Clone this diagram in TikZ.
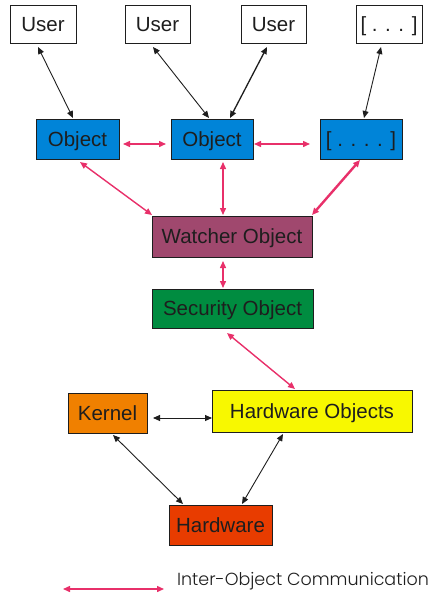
\documentclass[tikz,border=0pt]{standalone}
\usepackage{fontspec}
\setmainfont{Liberation Sans}
\newfontfamily\legendfont{Poppins Light}
\usetikzlibrary{arrows.meta,calc}
\definecolor{objblue}{HTML}{0084D8}
\definecolor{watcher}{HTML}{A0486E}
\definecolor{secgreen}{HTML}{008C40}
\definecolor{kernelor}{HTML}{F08000}
\definecolor{hwyellow}{HTML}{F8F800}
\definecolor{hwred}{HTML}{E83C00}
\definecolor{pinkarr}{HTML}{E8306A}
\definecolor{txt}{HTML}{1E1E1E}
\tikzset{
  box/.style={draw=txt, line width=0.9pt, inner sep=0pt, text=txt,
    text height=14.7pt, text depth=0pt,
    font=\fontsize{20.5}{24}\selectfont},
  blk/.style={draw=txt, line width=0.9pt, {Triangle[length=7pt,width=6pt]}-{Triangle[length=7pt,width=6pt]}},
  pnk/.style={draw=pinkarr, fill=pinkarr, line width=1.4pt, {Triangle[length=7pt,width=6pt]}-{Triangle[length=7pt,width=6pt]}}
}
\begin{document}
\begin{tikzpicture}[x=1pt,y=-1pt]
\useasboundingbox (0,0) rectangle (434,600);
% users
\node[box, minimum width=66pt, minimum height=38pt] (u1) at (43,24) {User};
\node[box, minimum width=65pt, minimum height=38pt] (u2) at (157.5,24) {User};
\node[box, minimum width=65pt, minimum height=38pt] (u3) at (273.5,24) {User};
\node[box, minimum width=66pt, minimum height=38pt] (u4) at (389,24) {[ . . . ]};
% objects
\node[box, fill=objblue, minimum width=83pt, minimum height=40pt] (o1) at (77.5,139) {Object};
\node[box, fill=objblue, minimum width=82pt, minimum height=40pt] (o2) at (212,139) {Object};
\node[box, fill=objblue, minimum width=82pt, minimum height=40pt] (o3) at (361,139) {[ . . . . ]};
% watcher, security
\node[box, fill=watcher, minimum width=160pt, minimum height=41pt] (w) at (232,236.5) {Watcher Object};
\node[box, fill=secgreen, minimum width=161pt, minimum height=39pt] (s) at (232.5,308.5) {Security Object};
% hardware
\node[box, fill=hwyellow, minimum width=200pt, minimum height=42pt] (ho) at (312,411) {Hardware Objects};
\node[box, fill=kernelor, minimum width=79pt, minimum height=40pt] (k) at (107.5,413) {Kernel};
\node[box, fill=hwred, minimum width=103pt, minimum height=40pt] (h) at (220.5,525) {Hardware};
% black connectors
\draw[blk] ($(u1)+(-5,23)$) -- ($(o1)+(-4.5,-21)$);
\draw[blk] ($(u2)+(-4.5,23)$) -- ($(o2)+(-3,-21)$);
\draw[blk, line width=1.3pt] ($(u3)+(-6.5,23)$) -- ($(o2)+(18,-21)$);
\draw[blk] ($(u4)+(-8,23)$) -- ($(o3)+(3,-21)$);
\draw[blk] ($(k)+(45.5,5)$) -- ($(ho)+(-100,7)$);
\draw[blk] ($(k)+(5.5,22)$) -- ($(h)+(-37.5,-21)$);
\draw[blk] ($(ho)+(-29,23)$) -- ($(h)+(21.5,-21)$);
% pink connectors
\draw[pnk] ($(o1)+(45.5,5)$) -- ($(o2)+(-46,5)$);
\draw[pnk] ($(o2)+(42,5)$) -- ($(o3)+(-51,5)$);
\draw[pnk] ($(o1)+(2.5,23)$) -- ($(w)+(-80,-21.5)$);
\draw[pnk] ($(o2)+(11,23)$) -- ($(w)+(-9,-21.5)$);
\draw[pnk, line width=2.4pt] ($(o3)+(-1,21)$) -- ($(w)+(80,-21.5)$);
\draw[pnk] ($(w)+(-9,24.5)$) -- ($(s)+(-9.5,-20.5)$);
\draw[pnk] ($(s)+(-5.5,24.5)$) -- ($(ho)+(-17,-22)$);
% legend
\coordinate (lg1) at (63,589);
\coordinate (lg2) at (164,589);
\draw[pnk] (lg1) -- (lg2);
\node[text=txt, inner sep=0pt, font=\legendfont\fontsize{17.5}{20}\selectfont] (lgt) at (303,581) {Inter-Object Communication};
\end{tikzpicture}
\end{document}
